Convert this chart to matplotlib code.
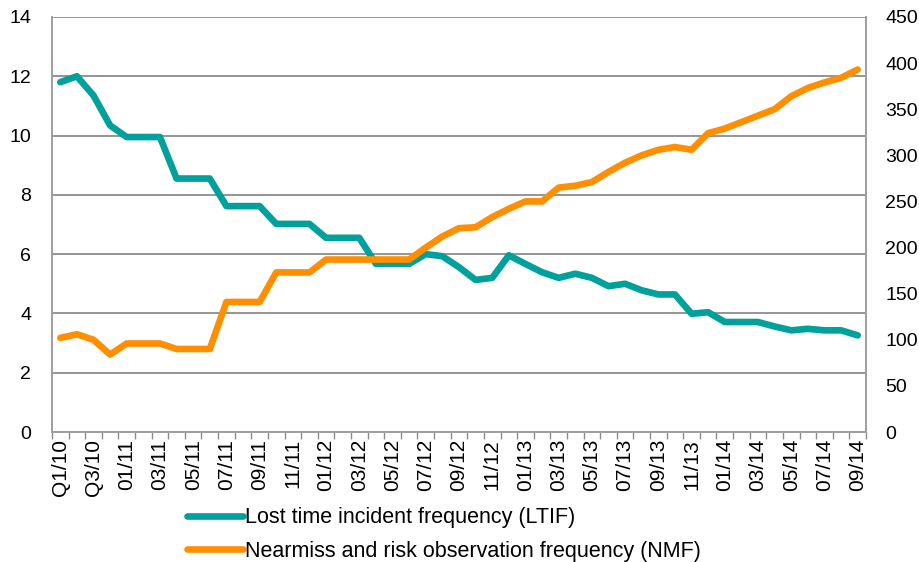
import numpy as np
import matplotlib
matplotlib.use("Agg")
import matplotlib.pyplot as plt
from matplotlib.lines import Line2D

plt.rcParams['font.family'] = ['Liberation Sans', 'DejaVu Sans']

# periods: four quarters of 2010, then monthly from 01/11 to 09/14
periods = ['Q1/10', 'Q2/10', 'Q3/10', 'Q4/10',
           '01/11', '02/11', '03/11', '04/11', '05/11', '06/11', '07/11', '08/11', '09/11', '10/11', '11/11', '12/11',
           '01/12', '02/12', '03/12', '04/12', '05/12', '06/12', '07/12', '08/12', '09/12', '10/12', '11/12', '12/12',
           '01/13', '02/13', '03/13', '04/13', '05/13', '06/13', '07/13', '08/13', '09/13', '10/13', '11/13', '12/13',
           '01/14', '02/14', '03/14', '04/14', '05/14', '06/14', '07/14', '08/14', '09/14']

ltif = [11.8, 12.0, 11.35, 10.34, 9.95, 9.95, 9.95, 8.55, 8.55, 8.55,
        7.62, 7.62, 7.62, 7.02, 7.02, 7.02, 6.55, 6.55, 6.55, 5.67,
        5.67, 5.67, 6.0, 5.93, 5.56, 5.13, 5.2, 5.96, 5.67, 5.39,
        5.2, 5.34, 5.2, 4.92, 5.0, 4.78, 4.64, 4.64, 3.99, 4.04,
        3.71, 3.71, 3.71, 3.56, 3.43, 3.48, 3.43, 3.43, 3.26]

nmf = [102, 106, 100, 84, 96, 96, 96, 90, 90, 90,
       141, 141, 141, 173, 173, 173, 187, 187, 187, 187,
       187, 187, 200, 212, 221, 222, 233, 242, 250, 250,
       265, 267, 271, 282, 292, 300, 306, 309, 306, 324,
       329, 336, 343, 350, 364, 373, 379, 384, 393]

ltif_label = "Lost time incident frequency (LTIF)"
nmf_label = "Nearmiss and risk observation frequency (NMF)"

teal = '#00A19C'
orange = '#FF8F00'
grid_col = '#8C8C8C'

fig = plt.figure(figsize=(9.2, 5.62), dpi=100)
ax = fig.add_axes([0.0565, 0.2313, 0.8848, 0.7385])
ax2 = ax.twinx()

x = np.arange(len(periods))
ax.plot(x, ltif, color=teal, lw=4.8, solid_capstyle='round', solid_joinstyle='round', zorder=3)
ax2.plot(x, nmf, color=orange, lw=4.8, solid_capstyle='round', solid_joinstyle='round', zorder=3)

ax.set_xlim(-0.5, len(periods) - 0.5)
ax.set_ylim(0, 14)
ax.set_yticks(np.arange(0, 15, 2))
ax2.set_ylim(0, 450)
ax2.set_yticks(np.arange(0, 451, 50))

ax.yaxis.grid(True, color=grid_col, lw=1.3)
ax.set_axisbelow(True)

ax.set_xticks(x[::2])
ax.set_xticklabels(periods[::2], rotation=90, fontsize=15)
ax.set_xticks(np.arange(-0.5, len(periods), 1), minor=True)
ax.tick_params(axis='x', which='major', length=0, pad=5)
ax.tick_params(axis='x', which='minor', length=5, width=1, color=grid_col, direction='out')

ax.tick_params(axis='y', length=0, labelsize=14, pad=15)
ax2.tick_params(axis='y', length=0, labelsize=14, pad=14)

for a in (ax, ax2):
    a.spines['top'].set_visible(False)
    for s in ('left', 'right', 'bottom'):
        a.spines[s].set_color('#A0A0A0')
        a.spines[s].set_linewidth(1.3)

# legend below the plot
handles = [Line2D([], [], color=teal, lw=4.8, solid_capstyle='round'),
           Line2D([], [], color=orange, lw=4.8, solid_capstyle='round')]
fig.legend(handles, [ltif_label, nmf_label], loc='upper left',
           bbox_to_anchor=(0.203, 0.097), frameon=False, fontsize=15.5,
           handlelength=2.6, handletextpad=0.1, labelspacing=0.58,
           borderpad=0, borderaxespad=0)

plt.savefig('out.png', dpi=100)
